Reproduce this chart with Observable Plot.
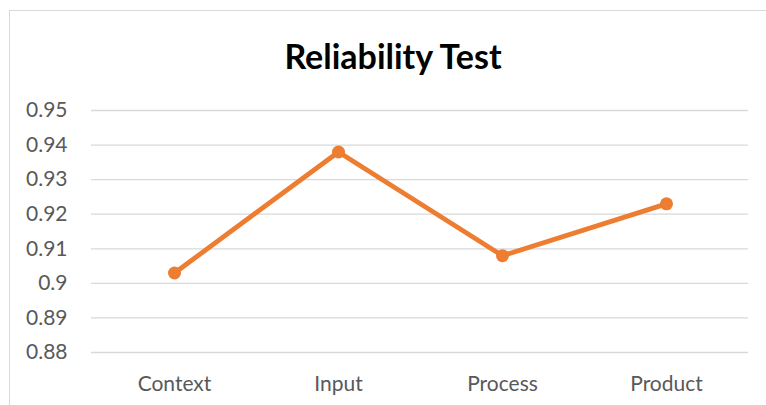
<!DOCTYPE html>
<html><head><meta charset="utf-8">
<script src="https://cdn.jsdelivr.net/npm/d3@7"></script>
<script src="https://cdn.jsdelivr.net/npm/@observablehq/plot@0.6"></script>
<style>
body{margin:0;background:#fff;overflow:hidden;}
#frame{position:absolute;left:9px;top:10px;width:800px;height:420px;border:1px solid #d9d9d9;box-sizing:border-box;}
#title{position:absolute;left:0;width:786px;top:36px;text-align:center;font-family:Lato,"Open Sans",sans-serif;font-weight:bold;font-size:34px;line-height:40px;color:#000;}
#chart{position:absolute;left:0;top:0;}
</style></head>
<body>
<div id="frame"></div>
<div id="title">Reliability Test</div>
<div id="chart"></div>
<script>
const categories = ["Context","Input","Process","Product"];
const values = [0.903, 0.938, 0.908, 0.923];
const yTicks = [0.88,0.89,0.90,0.91,0.92,0.93,0.94,0.95];
const data = categories.map((c,i)=>({category:c, value:values[i]}));
const fmt = d => String(+d.toFixed(2));
const plot = Plot.plot({
  width:766, height:405,
  marginTop:110, marginBottom:53, marginLeft:91, marginRight:18,
  style:{fontFamily:"Lato, 'Open Sans', sans-serif", fontSize:"21px", color:"#595959", background:"transparent"},
  x:{type:"band", domain:categories, padding:0, label:null},
  y:{domain:[0.88,0.95], label:null},
  marks:[
    Plot.gridY(yTicks,{stroke:"#d9d9d9", strokeOpacity:1, strokeWidth:1.3}),
    Plot.axisY(yTicks,{tickFormat:fmt, tickSize:0, tickPadding:24, fill:"#595959", fontSize:21}),
    Plot.axisX({tickSize:0, tickPadding:24, fill:"#595959", fontSize:21}),
    Plot.line(data,{x:"category", y:"value", stroke:"#ED7D31", strokeWidth:4.8}),
    Plot.dot(data,{x:"category", y:"value", fill:"#ED7D31", r:6.5})
  ]
});
document.getElementById("chart").appendChild(plot);
</script>
</body></html>
